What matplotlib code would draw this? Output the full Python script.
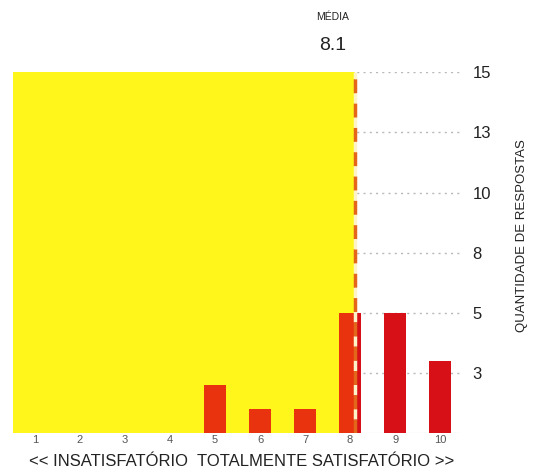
import matplotlib.pyplot as plt
import numpy as np
from matplotlib.patches import Rectangle

# notas de 1 a 10 e quantidade de respostas
notas = [1, 2, 3, 4, 5, 6, 7, 8, 9, 10]
respostas = [0, 0, 0, 0, 2, 1, 1, 5, 5, 3]
yticks = [2.5, 5, 7.5, 10, 12.5, 15]
ytick_labels = ["3", "5", "8", "10", "13", "15"]

media = sum(n * r for n, r in zip(notas, respostas)) / sum(respostas)

plt.rcParams['font.family'] = ["Liberation Sans", "DejaVu Sans"]

fig = plt.figure(figsize=(5.39, 4.75), dpi=100)
ax = fig.add_axes([0.0232, 0.088, 0.83, 0.76])
ax.set_xlim(0.5, 10.44)
ax.set_ylim(0, 15)

# grille pointillee
for y in yticks:
    ax.axhline(y, color="#b8b8b8", lw=1.0, ls=(0, (1.5, 3)), zorder=0)
ax.axhline(0, color="#cccccc", lw=0.8, zorder=0)

# zone jaune jusqu'a la moyenne
zone = Rectangle((0.5, 0), media - 0.5, 15, facecolor="#fff71c", edgecolor="none", zorder=1)
ax.add_patch(zone)

# barres rouges, puis version orangee limitee a la zone jaune
ax.bar(notas, respostas, width=0.48, color="#d70f17", zorder=2)
bars_in = ax.bar(notas, respostas, width=0.48, color="#e8330e", zorder=3)
for b in bars_in:
    b.set_clip_path(zone)

# ligne de la moyenne
ax.plot([media, media], [0, 15], color="#e4661a", lw=2.5, ls=(0, (4, 3)),
        gapcolor="#fff4c8", zorder=4)

ax.text(media - 0.5, 16.1, "%.1f" % media, ha="center", va="center", fontsize=14, color="#222222",
        clip_on=False)
ax.text(media - 0.5, 17.3, "MÉDIA", ha="center", va="center", fontsize=7.5, color="#222222",
        clip_on=False)

ax.set_xticks(notas)
ax.set_xticklabels([str(n) for n in notas], fontsize=8, color="#555555")
ax.tick_params(axis="x", length=0, pad=1.5)
ax.yaxis.tick_right()
ax.set_yticks(yticks)
ax.set_yticklabels(ytick_labels, fontsize=12, color="#222222")
ax.tick_params(axis="y", length=0, pad=9)
for s in ax.spines.values():
    s.set_visible(False)

fig.text(0.448, 0.012, "<< INSATISFATÓRIO  TOTALMENTE SATISFATÓRIO >>", ha="center", va="bottom",
         fontsize=12, color="#222222")
fig.text(0.968, 0.505, "QUANTIDADE DE RESPOSTAS", rotation=90, ha="center", va="center",
         fontsize=9.5, color="#222222")

fig.savefig("out.png", dpi=100)
